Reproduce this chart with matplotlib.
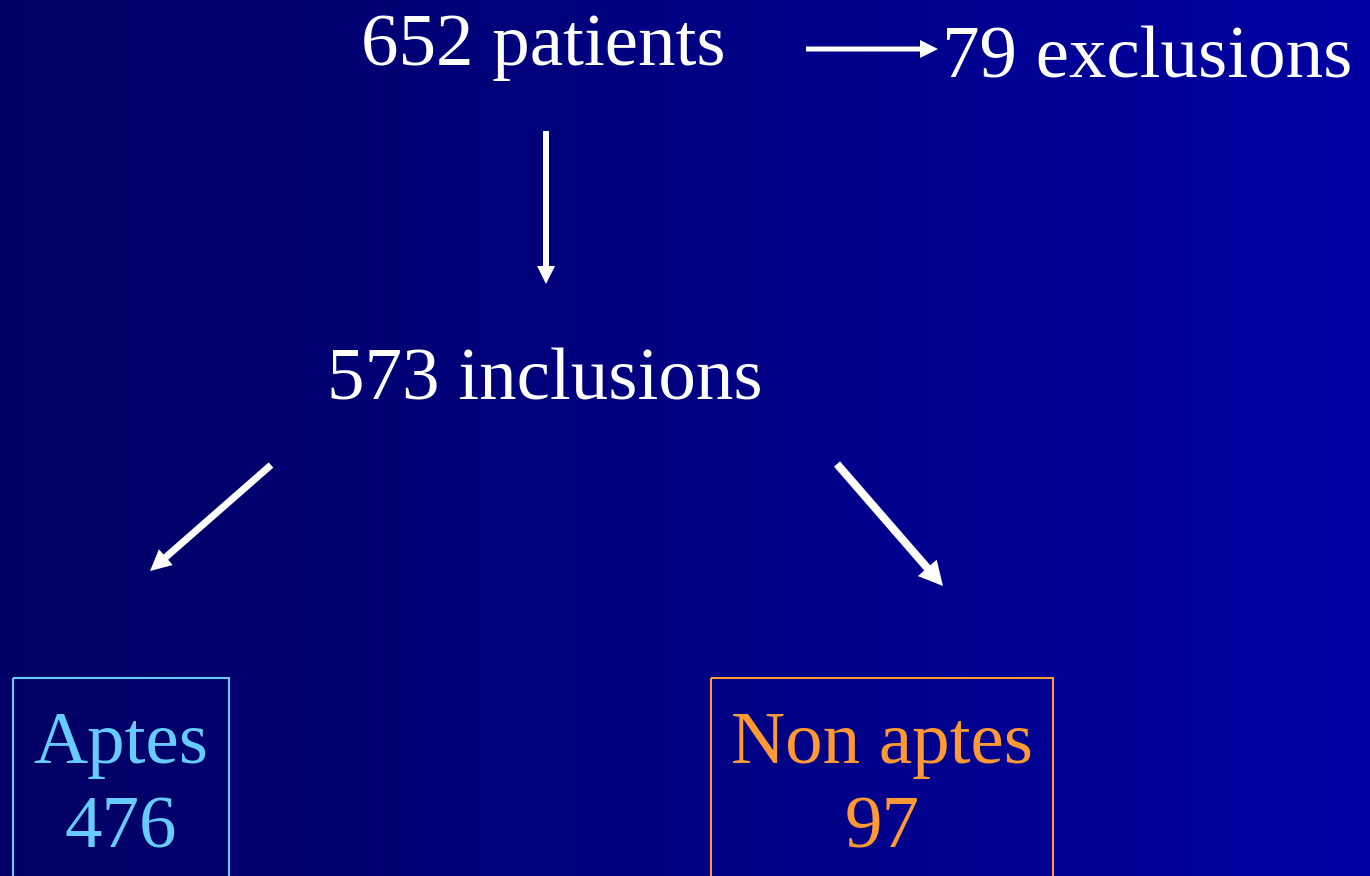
import numpy as np
import matplotlib
matplotlib.use("Agg")
import matplotlib.pyplot as plt
from matplotlib.patches import Rectangle, FancyArrow

# Data
total_patients = 652
exclusions = 79
inclusions = 573
group_labels = ["Aptes", "Non aptes"]
group_counts = [476, 97]

W, H = 1370, 876
fig = plt.figure(figsize=(W / 100, H / 100), dpi=100)
ax = fig.add_axes([0, 0, 1, 1])
ax.set_xlim(0, W)
ax.set_ylim(H, 0)
ax.axis("off")

# background gradient
left = np.array([0, 0, 100]) / 255
right = np.array([0, 0, 162]) / 255
t = np.linspace(0, 1, 256)
grad = left[None, :] * (1 - t[:, None]) + right[None, :] * t[:, None]
ax.imshow(grad[None, :, :], extent=[0, W, H, 0], aspect="auto", zorder=0)

font = "Liberation Serif"
fs = 54

ax.text(543, 65, f"{total_patients} patients", color="white", fontsize=fs,
        family=font, ha="center", va="baseline")
ax.text(1147, 78, f"{exclusions} exclusions", color="white", fontsize=fs,
        family=font, ha="center", va="baseline")
ax.text(545, 400, f"{inclusions} inclusions", color="white", fontsize=fs,
        family=font, ha="center", va="baseline")

def arrow(x0, y0, x1, y1, w, hw, hl):
    ax.add_patch(FancyArrow(x0, y0, x1 - x0, y1 - y0, width=w, head_width=hw,
                            head_length=hl, length_includes_head=True,
                            color="white", lw=0, zorder=3))

arrow(806, 49, 938, 49, 5, 18, 18)
arrow(546, 131, 546, 284, 6, 18, 18)
arrow(271, 465, 150, 571, 7, 21, 21)
arrow(837, 464, 943, 586, 8, 25, 24)

colors = ["#66CCFF", "#FF9933"]
boxes = [(13, 678, 216), (711, 678, 342)]
for (x, y, w), lab, cnt, c in zip(boxes, group_labels, group_counts, colors):
    ax.add_patch(Rectangle((x, y), w, 300, fill=False, edgecolor=c, lw=1.5, zorder=2))
    cx = x + w / 2
    ax.text(cx, 763, lab, color=c, fontsize=fs, family=font, ha="center", va="baseline")
    ax.text(cx, 848, str(cnt), color=c, fontsize=fs, family=font, ha="center", va="baseline")

fig.savefig("out.png", dpi=100)
